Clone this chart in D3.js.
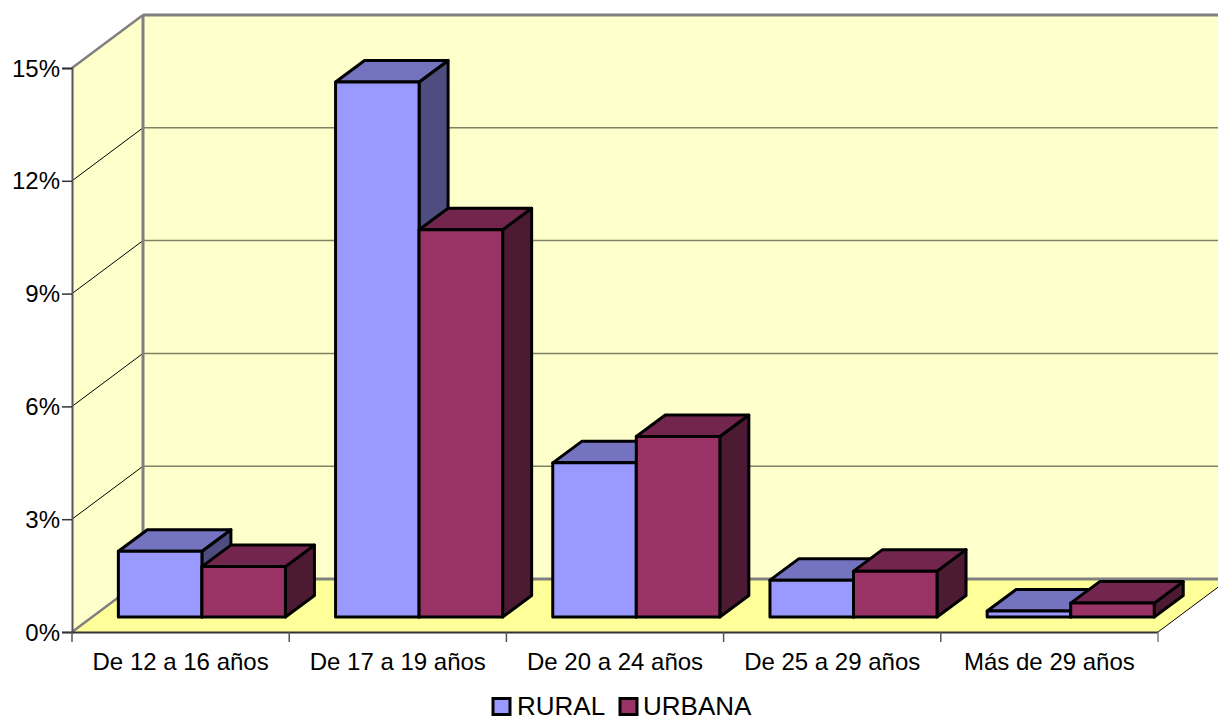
<!DOCTYPE html>
<html>
<head>
<meta charset="utf-8">
<script src="https://cdn.jsdelivr.net/npm/d3@7"></script>
<style>
body { margin: 0; background: #fff; }
svg { display: block; }
text { font-family: "Liberation Sans", Arial, sans-serif; fill: #000; }
</style>
</head>
<body>
<svg id="chart" width="1218" height="717"></svg>
<script>
var categories= ["De 12 a 16 años", "De 17 a 19 años", "De 20 a 24 años", "De 25 a 29 años", "Más de 29 años"];
var seriesNames= ["RURAL", "URBANA"];
var rural= [1.75, 14.23, 4.1, 0.98, 0.16];
var urbana= [1.34, 10.3, 4.8, 1.22, 0.37];
var yTicks= [0, 3, 6, 9, 12, 15];

var front= ["#9999FF", "#993366"];
var top3d= ["#7373BF", "#73264D"];
var side= ["#4D4D80", "#4D1A33"];

//Plot box, front plane
var left= 72, right= 1158, y0= 632, y15= 68;
//Depth of the whole box
var wallX= 71, wallY= 53;
//Depth of the bars and where they sit on the floor
var barX= 29, barY= 21.5;
var shiftX= 21.3, shiftY= 15;

var svg= d3.select("#chart");

var x= d3.scaleBand().domain(categories).range([left, right]);
var xSeries= d3.scaleBand().domain(seriesNames).range([0, x.bandwidth()]).paddingInner(0).paddingOuter(0.3);
var y= d3.scaleLinear().domain([0, 15]).range([y0, y15]);

function poly(points, fill, stroke, width) {
    return svg.append("polygon")
        .attr("points", points.map(function(p) {return p.join(",")}).join(" "))
        .attr("fill", fill)
        .attr("stroke", stroke || "none")
        .attr("stroke-width", width || 0)
        .attr("stroke-linejoin", "round");
}

function line(x1, y1, x2, y2, color, width) {
    return svg.append("line")
        .attr("x1", x1).attr("y1", y1).attr("x2", x2).attr("y2", y2)
        .attr("stroke", color).attr("stroke-width", width);
}

//Walls and floor
poly([[left, y15], [left+wallX, y15-wallY], [left+wallX, y0-wallY], [left, y0]], "#FFFFCC");
poly([[left+wallX, y15-wallY], [right+wallX, y15-wallY], [right+wallX, y0-wallY], [left+wallX, y0-wallY]], "#FFFFCC");
poly([[left, y0], [left+wallX, y0-wallY], [right+wallX, y0-wallY], [right, y0]], "#FFFF99");

//Gridlines, back wall then the diagonal on the side wall
yTicks.slice(1, -1).forEach(function(t) {
    line(left+wallX, y(t)-wallY, right+wallX, y(t)-wallY, "#808066", 1.5);
    line(left, y(t), left+wallX, y(t)-wallY, "#000", 1);
});

//Box edges
line(left+wallX, y15-wallY, left+wallX, y0-wallY, "#808080", 3);
line(left+wallX, y15-wallY, right+wallX, y15-wallY, "#808080", 3);
line(left, y15, left+wallX, y15-wallY, "#808080", 2.5);
line(left, y0, left+wallX, y0-wallY, "#808080", 2.5);
line(left+wallX, y0-wallY, right+wallX, y0-wallY, "#808080", 3);
line(right, y0, right+wallX, y0-wallY, "#000", 1);

//Bars
categories.forEach(function(cat, i) {
    [rural[i], urbana[i]].forEach(function(v, s) {
        var x1= x(cat) + xSeries(seriesNames[s]) + shiftX;
        var x2= x1 + xSeries.bandwidth();
        var yB= y(0) - shiftY;
        var yT= y(v) - shiftY;
        poly([[x2, yT], [x2+barX, yT-barY], [x2+barX, yB-barY], [x2, yB]], side[s], "#000", 3);
        poly([[x1, yT], [x1+barX, yT-barY], [x2+barX, yT-barY], [x2, yT]], top3d[s], "#000", 3);
        poly([[x1, yT], [x2, yT], [x2, yB], [x1, yB]], front[s], "#000", 3);
    });
});

//Axes
var yAxis= d3.axisLeft(y).tickValues(yTicks).tickSize(10).tickPadding(2).tickFormat(function(d) {return d + "%"});
var gy= svg.append("g").attr("transform", "translate(" + left + ",0)").call(yAxis);
gy.selectAll("text").attr("font-size", 24).attr("font-family", null).attr("dy", "0.34em");
gy.selectAll("line").attr("stroke", "#333").attr("stroke-width", 1.5);
gy.select(".domain").attr("stroke", "#555").attr("stroke-width", 2);

var xAxis= d3.axisBottom(x).tickSize(0).tickPadding(21);
var gx= svg.append("g").attr("transform", "translate(0," + y0 + ")").call(xAxis);
gx.selectAll("text").attr("font-size", 24).attr("font-family", null);
gx.select(".domain").attr("stroke", "#333").attr("stroke-width", 2);

//Ticks sit between the categories so the axis ones can't be used
categories.forEach(function(cat) {
    line(x(cat), y0, x(cat), y0+10, "#555", 1.5);
});
line(right, y0, right, y0+10, "#808080", 1.5);

//Legend
var legendX= [493, 620];
var legendText= [517, 643];
seriesNames.forEach(function(name, s) {
    svg.append("rect")
        .attr("x", legendX[s]).attr("y", 698.5)
        .attr("width", 17).attr("height", 16)
        .attr("fill", front[s]).attr("stroke", "#000").attr("stroke-width", 3);
    svg.append("text")
        .attr("x", legendText[s]).attr("y", 715)
        .attr("font-size", 26)
        .text(name);
});
</script>
</body>
</html>
